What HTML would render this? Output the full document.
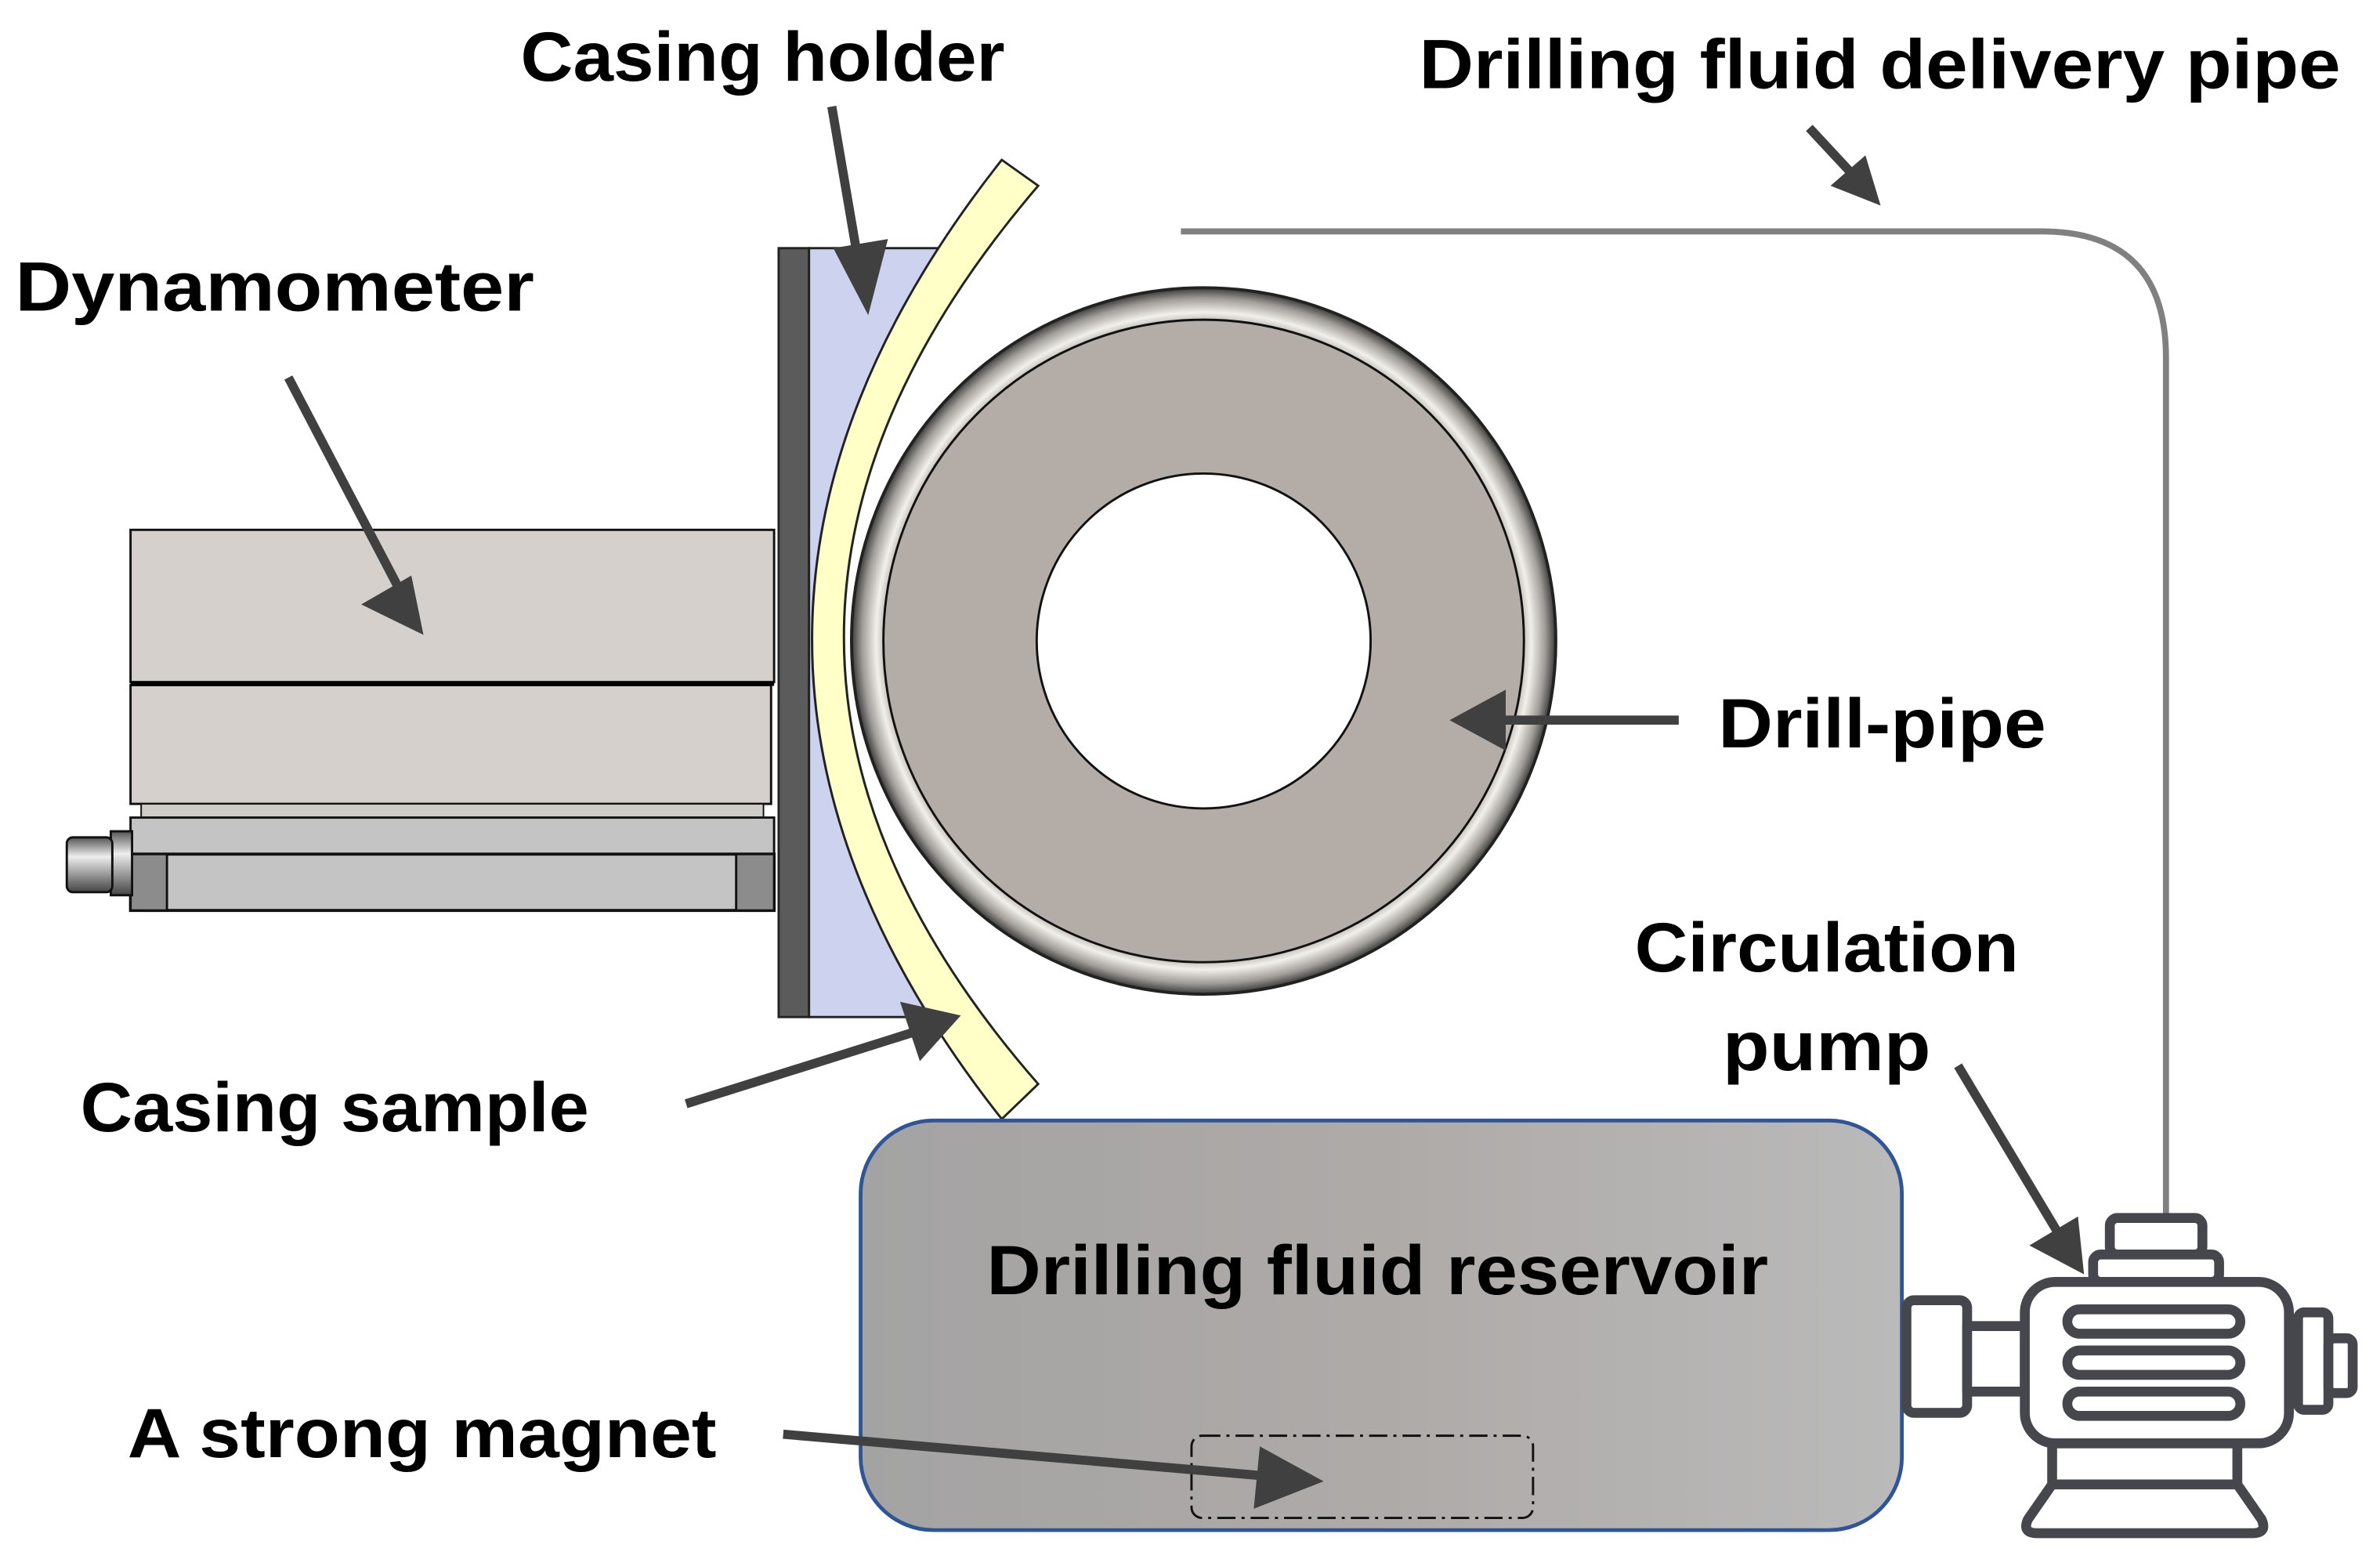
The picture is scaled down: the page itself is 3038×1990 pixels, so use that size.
<!DOCTYPE html>
<html><head><meta charset="utf-8">
<style>
html,body{margin:0;padding:0;background:#fff;}
svg{display:block;}
text{font-family:"Liberation Sans",sans-serif;font-weight:bold;fill:#000;}
</style></head>
<body>
<svg width="3038" height="1990" viewBox="0 0 3038 1990" xmlns="http://www.w3.org/2000/svg">
<defs>
<linearGradient id="res" x1="0" y1="0" x2="1" y2="0">
<stop offset="0" stop-color="#a4a3a3"/><stop offset="0.5" stop-color="#aeaaa8"/><stop offset="1" stop-color="#bababa"/>
</linearGradient>
<radialGradient id="rim" cx="0.5" cy="0.5" r="0.5">
<stop offset="0.9" stop-color="#b4ada7"/><stop offset="0.93" stop-color="#f2f0ea"/><stop offset="0.97" stop-color="#a09d98"/><stop offset="1" stop-color="#3a3a38"/>
</radialGradient>
<linearGradient id="knob" x1="0" y1="0" x2="0" y2="1">
<stop offset="0" stop-color="#555"/><stop offset="0.35" stop-color="#eee"/><stop offset="1" stop-color="#444"/>
</linearGradient>
<clipPath id="leftc"><path d="M0,0 L660,105 Q410,420 660,735 L0,1024 Z"/></clipPath>
</defs>
<g transform="scale(1.9375,1.9434)">
<rect x="86" y="348" width="424" height="100" fill="#d5d0cb" stroke="#111" stroke-width="1.5"/>
<rect x="86" y="450" width="422" height="78" fill="#d5d0cb" stroke="#111" stroke-width="1.5"/>
<line x1="86" y1="449" x2="510" y2="449" stroke="#000" stroke-width="3"/>
<rect x="93" y="528" width="410" height="9" fill="#d0cdc9" stroke="#111" stroke-width="1"/>
<rect x="86" y="537" width="424" height="24" fill="#c4c4c4" stroke="#111" stroke-width="1.5"/>
<rect x="86" y="561" width="424" height="37" fill="#c4c4c4" stroke="#111" stroke-width="2"/>
<rect x="86" y="561" width="24" height="37" fill="#8c8c8c" stroke="#111" stroke-width="1.5"/>
<rect x="485" y="561" width="25" height="37" fill="#8c8c8c" stroke="#111" stroke-width="1.5"/>
<rect x="73" y="546" width="14" height="42" fill="url(#knob)" stroke="#111" stroke-width="1.5"/>
<rect x="44" y="550" width="30" height="36" rx="4" fill="url(#knob)" stroke="#111" stroke-width="1.5"/>
<rect x="513" y="163" width="20" height="505" fill="#5b5b5b" stroke="#222" stroke-width="1.5"/>
<rect x="533" y="163" width="200" height="505" fill="#cdd3ef" stroke="#222" stroke-width="1.5" clip-path="url(#leftc)"/>
<path d="M660,105 Q410,420 660,735 L684,712 Q428,420 684,122 Z" fill="#ffffc8" stroke="#222" stroke-width="1.5"/>
<circle cx="793" cy="421" r="232" fill="url(#rim)" stroke="#222" stroke-width="2"/>
<circle cx="793" cy="421" r="211" fill="#b4ada7" stroke="#111" stroke-width="1.5"/>
<circle cx="793" cy="421" r="110" fill="#fff" stroke="#111" stroke-width="1.5"/>
<path d="M778,152 L1345,152 Q1427,152 1427,235 L1427,800" fill="none" stroke="#808080" stroke-width="4"/>
<rect x="567" y="736" width="686" height="269" rx="48" fill="url(#res)" stroke="#2f5597" stroke-width="2.5"/>
<rect x="785" y="943" width="225" height="54" rx="7" fill="none" stroke="#111" stroke-width="1.5" stroke-dasharray="12,4,2,4"/>
<g fill="#fff" stroke="#45474d" stroke-width="6.5" stroke-linejoin="round">
<rect x="1256" y="854" width="40" height="74" rx="5"/>
<rect x="1296" y="871" width="38" height="43"/>
<rect x="1514" y="862" width="20" height="64" rx="4"/>
<rect x="1534" y="879" width="16" height="36" rx="4"/>
<rect x="1390" y="800" width="61" height="24" rx="5"/>
<rect x="1379" y="824" width="83" height="18" rx="5"/>
<path d="M1352,948 L1474,948 L1474,975 L1352,975 Z"/>
<path d="M1352,975 L1474,975 L1490,998 Q1494,1007 1484,1007 L1342,1007 Q1332,1007 1336,998 Z"/>
<rect x="1334" y="842" width="174" height="106" rx="20"/>
<rect x="1362" y="860" width="114" height="16" rx="8"/>
<rect x="1362" y="887" width="114" height="16" rx="8"/>
<rect x="1362" y="914" width="114" height="16" rx="8"/>
</g>
<g stroke="#404040" stroke-width="6" fill="#404040">
<line x1="548" y1="70" x2="566" y2="175"/>
<polygon points="549,163 585,157 572,207" stroke="none"/>
<line x1="190" y1="248" x2="262" y2="385"/>
<polygon points="238,397 271,378 279,417" stroke="none"/>
<line x1="1106" y1="473" x2="985" y2="473"/>
<polygon points="992,453 992,493 955,473" stroke="none"/>
<line x1="452" y1="725" x2="605" y2="677"/>
<polygon points="593,658 606,697 633,667" stroke="none"/>
<line x1="1290" y1="700" x2="1356" y2="810"/>
<polygon points="1337,818 1369,799 1373,837" stroke="none"/>
<line x1="1192" y1="84" x2="1220" y2="114"/>
<polygon points="1206,122 1229,102 1239,135" stroke="none"/>
<line x1="516" y1="942" x2="840" y2="970"/>
<polygon points="830,950 826,991 872,973" stroke="none"/>
</g>
<g font-size="46">
<text x="343" y="53" textLength="319" lengthAdjust="spacingAndGlyphs">Casing holder</text>
<text x="935" y="58" textLength="607" lengthAdjust="spacingAndGlyphs">Drilling fluid delivery pipe</text>
<text x="10" y="204" textLength="342" lengthAdjust="spacingAndGlyphs">Dynamometer</text>
<text x="1132" y="491" textLength="216" lengthAdjust="spacingAndGlyphs">Drill-pipe</text>
<text x="1077" y="638" textLength="253" lengthAdjust="spacingAndGlyphs">Circulation</text>
<text x="1135" y="703" textLength="137" lengthAdjust="spacingAndGlyphs">pump</text>
<text x="53" y="743" textLength="335" lengthAdjust="spacingAndGlyphs">Casing sample</text>
<text x="650" y="850" textLength="515" lengthAdjust="spacingAndGlyphs">Drilling fluid reservoir</text>
<text x="84" y="957" textLength="388" lengthAdjust="spacingAndGlyphs">A strong magnet</text>
</g>
</g>
</svg>
</body></html>
